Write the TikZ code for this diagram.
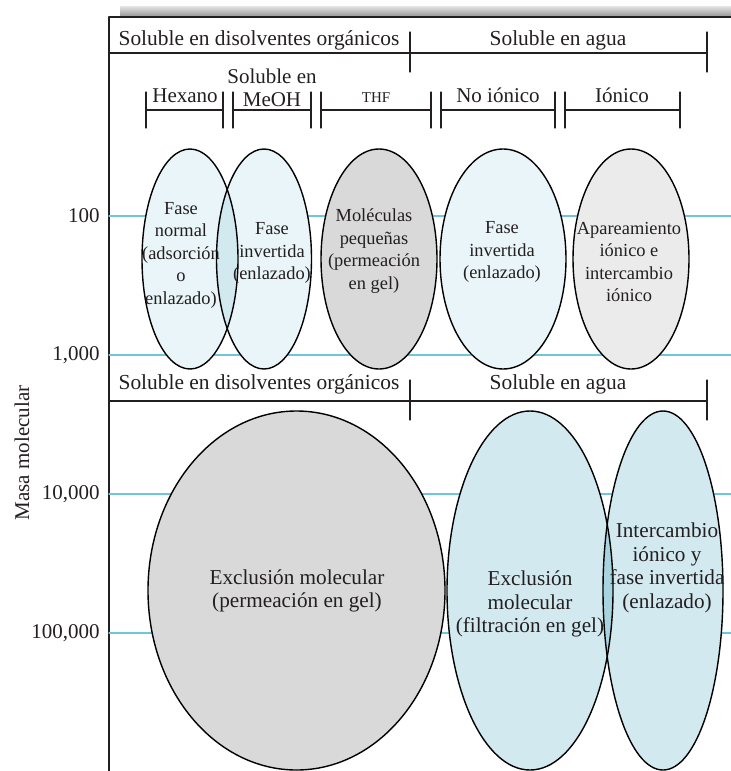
\documentclass[tikz,border=0pt]{standalone}
\usepackage{fontspec}
\setmainfont{Liberation Serif}
\definecolor{guideblue}{HTML}{6EC6DA}
\definecolor{paleblue}{HTML}{E9F5F8}
\definecolor{midblue}{HTML}{D2E9F0}
\definecolor{deepblue}{HTML}{A8D4E0}
\definecolor{gelgray}{HTML}{D9D9D9}
\definecolor{ionicgray}{HTML}{EBEBEB}
\definecolor{ink}{HTML}{231F20}
\tikzset{
  rule/.style={line width=0.65pt, draw=ink},
  guide/.style={line width=0.6pt, draw=guideblue},
  blob/.style={line width=0.7pt, draw=black},
  hdr/.style={font=\fontsize{10.7}{12}\selectfont, text=ink, inner sep=0pt},
  lbl/.style={font=\fontsize{10.5}{12}\selectfont, text=ink, inner sep=0pt},
  txtsm/.style={align=center, font=\fontsize{9.2}{11.25}\selectfont, text=ink, inner sep=0pt},
  txtlg/.style={align=center, font=\fontsize{10.6}{11.75}\selectfont, text=ink, inner sep=0pt}
}
\begin{document}
\begin{tikzpicture}[x=0.5pt, y=-0.5pt, line join=round, line cap=round]
  \useasboundingbox (0,0) rectangle (731,771);
  \def\xa{109} % eje
  \def\xr{731}
  \def\xt{707}
  % barra superior
  \shade[top color=gray!20, bottom color=gray!85] (120,6) rectangle (\xr,17);
  \draw[rule] (\xr,17) -- (\xa,17) -- (\xa,771);
  % lineas guia y escala
  \foreach \y/\m in {216/100, 355/{1,000}, 494/{10,000}, 633/{100,000}} {
    \draw[guide] (\xa,\y) -- (\xr,\y);
    \node[lbl, anchor=east] (m\y) at (100,\y) {\m};
  }
  \node[lbl, rotate=90] (masa) at (22,453) {Masa molecular};
  % encabezados
  \foreach \y in {53, 401} {
    \draw[rule] (\xa,\y) -- (\xt,\y);
    \draw[rule] (410,\y-21) -- (410,\y+19) (\xt,\y-21) -- (\xt,\y+19);
  }
  \node[hdr, anchor=base] (org1) at (259,46) {Soluble en disolventes orgánicos};
  \node[hdr, anchor=base] (agua1) at (558,46) {Soluble en agua};
  \node[hdr, anchor=base] (org2) at (259,389) {Soluble en disolventes orgánicos};
  \node[hdr, anchor=base] (agua2) at (558,389) {Soluble en agua};
  % corchetes de disolventes
  \foreach \a/\b in {146/223, 233/311, 321/431, 441/555, 565/680}
    \draw[rule] (\a,92) -- (\a,128) (\b,92) -- (\b,128) (\a,110) -- (\b,110);
  \node[lbl, anchor=base] (hex) at (185,102) {Hexano};
  \node[lbl, anchor=base] (sol) at (272,83) {Soluble en};
  \node[lbl, anchor=base] (meoh) at (272,106) {MeOH};
  \node[anchor=base, font=\fontsize{7.5}{9}\selectfont, text=ink, inner sep=0pt] (thf) at (376,102) {THF};
  \node[lbl, anchor=base] (noi) at (498,102) {No iónico};
  \node[lbl, anchor=base] (ion) at (622,102) {Iónico};
  % elipses superiores
  \fill[paleblue] (190,259) ellipse [x radius=48, y radius=110];
  \fill[paleblue] (264,259) ellipse [x radius=47.5, y radius=110];
  \begin{scope}
    \clip (190,259) ellipse [x radius=48, y radius=110];
    \fill[midblue] (264,259) ellipse [x radius=47.5, y radius=110];
  \end{scope}
  \draw[blob] (190,259) ellipse [x radius=48, y radius=110];
  \draw[blob] (264,259) ellipse [x radius=47.5, y radius=110];
  \draw[blob, fill=gelgray] (379,259) ellipse [x radius=58, y radius=110];
  \draw[blob, fill=paleblue] (503,259) ellipse [x radius=63, y radius=110];
  \draw[blob, fill=ionicgray] (631,259) ellipse [x radius=58, y radius=110];
  % elipses inferiores
  \draw[blob, fill=gelgray] (296.5,590.5) ellipse [x radius=148.5, y radius=179.5];
  \fill[midblue] (530,590.5) ellipse [x radius=83, y radius=179.5];
  \fill[midblue] (663,590.5) ellipse [x radius=60, y radius=179.5];
  \begin{scope}
    \clip (530,590.5) ellipse [x radius=83, y radius=179.5];
    \fill[deepblue] (663,590.5) ellipse [x radius=60, y radius=179.5];
  \end{scope}
  \draw[blob] (530,590.5) ellipse [x radius=83, y radius=179.5];
  \draw[blob] (663,590.5) ellipse [x radius=60, y radius=179.5];
  % textos
  \node[txtsm] (fn) at (181,255) {Fase\\normal\\(adsorción\\o\\enlazado)};
  \node[txtsm] (fi) at (272,253) {Fase\\invertida\\(enlazado)};
  \node[txtsm] (mp) at (374,251) {Moléculas\\pequeñas\\(permeación\\en gel)};
  \node[txtsm] (fi2) at (502,252) {Fase\\invertida\\(enlazado)};
  \node[txtsm] (ai) at (629,262) {Apareamiento\\iónico e\\intercambio\\iónico};
  \node[txtlg] (em) at (297,591) {Exclusión molecular\\(permeación en gel)};
  \node[txtlg] (ef) at (530,604) {Exclusión\\molecular\\(filtración en gel)};
  \node[txtlg] (ii) at (667,568) {Intercambio\\iónico y\\fase invertida\\(enlazado)};
\end{tikzpicture}
\end{document}
